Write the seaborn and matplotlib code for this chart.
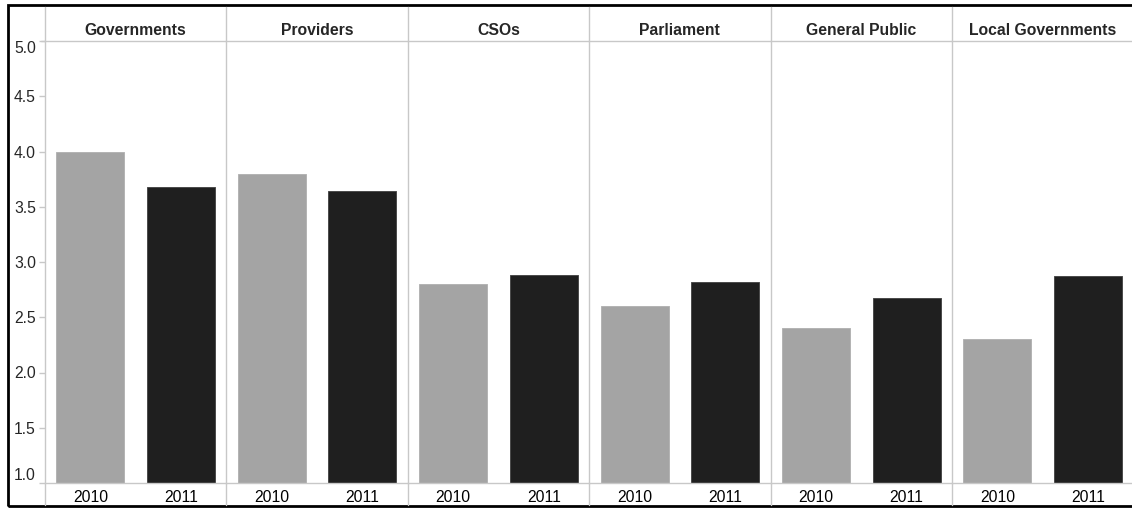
import matplotlib.pyplot as plt
import matplotlib.lines as mlines
import matplotlib.patches as mpatches
import pandas as pd
import seaborn as sns

groups = ['Governments', 'Providers', 'CSOs', 'Parliament', 'General Public', 'Local Governments']
years = ['2010', '2011']
scores_2010 = [4.00, 3.80, 2.80, 2.60, 2.40, 2.30]
scores_2011 = [3.68, 3.64, 2.88, 2.82, 2.67, 2.87]
y_ticks = [1.0, 1.5, 2.0, 2.5, 3.0, 3.5, 4.0, 4.5, 5.0]

bar_colors = {'2010': '#a4a4a4', '2011': '#1f1f1f'}
bar_edges = ['#b4b4b4', '#4a4a4a']
grid_col = '#c8c8c8'

rows = []
for g, a, b in zip(groups, scores_2010, scores_2011):
    rows.append({'group': g, 'year': '2010', 'score': a})
    rows.append({'group': g, 'year': '2011', 'score': b})
df = pd.DataFrame(rows)

sns.set_style('white')
plt.rcParams['font.family'] = ['Liberation Sans', 'DejaVu Sans']

W, H = 1132, 508
fig = plt.figure(figsize=(W / 100, H / 100), dpi=100)


def fx(x):
    return x / W


def fy(y):
    return 1 - y / H


left, pw = 45, 181.4
top_head, top_plot, bottom_plot = 7, 41, 483

for i, g in enumerate(groups):
    x0 = left + i * pw
    ax = fig.add_axes([fx(x0), fy(bottom_plot), pw / W, (bottom_plot - top_plot) / H])
    hx = fig.add_axes([fx(x0), fy(top_plot), pw / W, (top_plot - top_head) / H])

    sub = df[df['group'] == g]
    sns.barplot(data=sub, x='year', y='score', hue='year', palette=bar_colors,
                order=years, hue_order=years, width=0.75, legend=False,
                linewidth=0.7, ax=ax)
    for p, ec in zip(ax.patches, bar_edges):
        p.set_edgecolor(ec)
    ax.set_ylim(1.0, 5.0)
    ax.set_xlim(-0.5, 1.5)
    ax.set_xlabel('')
    ax.set_ylabel('')
    for s in ['top', 'right', 'left']:
        ax.spines[s].set_visible(False)
    ax.spines['bottom'].set_color(grid_col)
    ax.spines['bottom'].set_linewidth(1)
    ax.set_xticks([0, 1])
    ax.set_xticklabels(years)
    ax.set_xticks([0.5], minor=True)
    ax.tick_params(axis='x', which='major', length=0, pad=5, labelsize=11.3, colors='black')
    ax.tick_params(axis='x', which='minor', length=3, width=1, color=grid_col, direction='out')
    if i == 0:
        ax.set_yticks(y_ticks)
        ax.set_yticklabels([f'{t:.1f}' for t in y_ticks])
        ax.tick_params(axis='y', length=4, width=1, color=grid_col, pad=2.5, labelsize=11.3,
                       left=True)
        labels = ax.get_yticklabels()
        labels[0].set_va('bottom')
        labels[-1].set_va('top')
    else:
        ax.set_yticks([])

    hx.set_xticks([])
    hx.set_yticks([])
    for s in ['top', 'right', 'left']:
        hx.spines[s].set_visible(False)
    hx.spines['bottom'].set_color(grid_col)
    hx.spines['bottom'].set_linewidth(1)
    hx.text(0.5, 0.17, g, ha='center', va='baseline', fontsize=11.3,
            fontweight='bold', transform=hx.transAxes)

# y tick mark at 5.0 on the header line
fig.add_artist(mlines.Line2D([fx(41), fx(45)], [fy(top_plot), fy(top_plot)],
                             color=grid_col, lw=1))

# panel separators
for i in range(7):
    x = left + i * pw
    fig.add_artist(mlines.Line2D([fx(x), fx(x)], [fy(top_head), fy(505)],
                                 color=grid_col, lw=1))

# outer frame
fig.add_artist(mpatches.Rectangle((fx(8), fy(506)), fx(1140) - fx(8), fy(5) - fy(506),
                                  fill=False, edgecolor='black', lw=2))

plt.savefig('out.png', dpi=100)
